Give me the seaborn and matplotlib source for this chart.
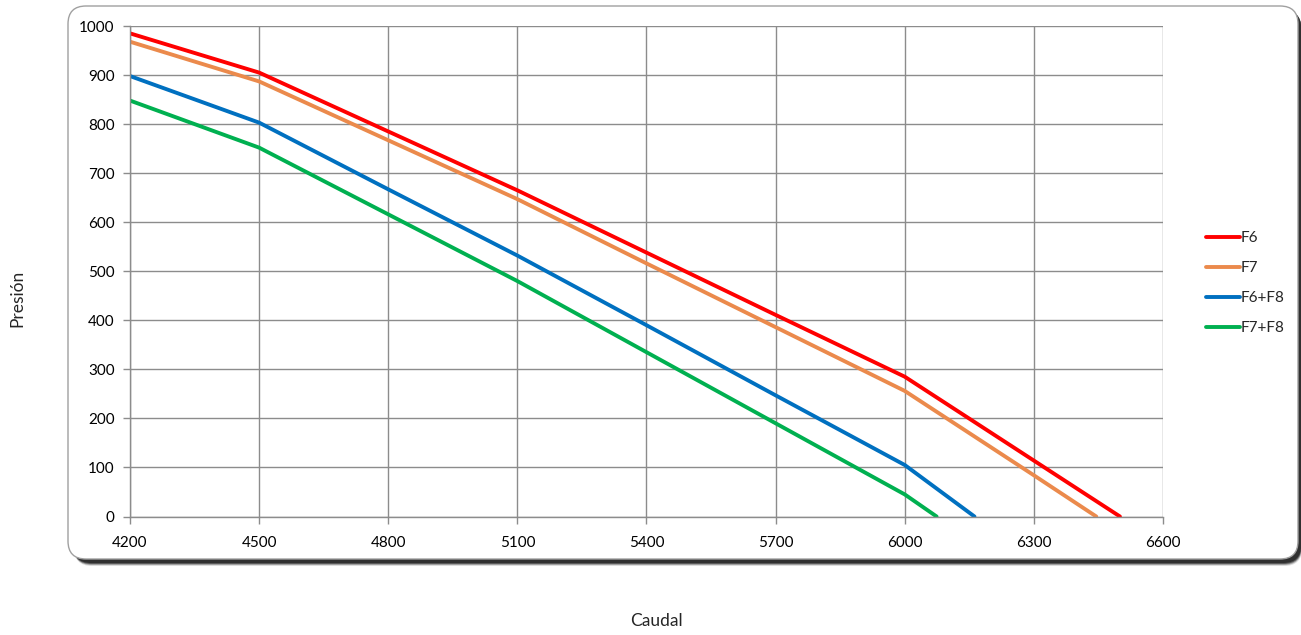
import matplotlib
matplotlib.use("Agg")
import matplotlib.pyplot as plt
from matplotlib.patches import FancyBboxPatch
import seaborn as sns
import pandas as pd

caudal_f6 = [4200, 4500, 4800, 5100, 5400, 5700, 6000, 6300, 6500]
presion_f6 = [985, 905, 785, 665, 538, 411, 285, 114, 0]
caudal_f7 = [4200, 4500, 4800, 5100, 5400, 5700, 6000, 6300, 6445]
presion_f7 = [968, 887, 767, 647, 516, 386, 256, 84, 0]
caudal_f6f8 = [4200, 4500, 4800, 5100, 5400, 5700, 6000, 6162]
presion_f6f8 = [898, 803, 667, 532, 390, 247, 105, 0]
caudal_f7f8 = [4200, 4500, 4800, 5100, 5400, 5700, 6000, 6074]
presion_f7f8 = [848, 752, 616, 480, 335, 190, 45, 0]

series_names = ["F6", "F7", "F6+F8", "F7+F8"]
colors = {"F6": "#FF0000", "F7": "#EB8A4C", "F6+F8": "#0070C0", "F7+F8": "#00B050"}
x_ticks = [4200, 4500, 4800, 5100, 5400, 5700, 6000, 6300, 6600]
y_ticks = list(range(0, 1001, 100))

frames = []
for name, xs, ys in zip(series_names,
                        [caudal_f6, caudal_f7, caudal_f6f8, caudal_f7f8],
                        [presion_f6, presion_f7, presion_f6f8, presion_f7f8]):
    frames.append(pd.DataFrame({"Caudal": xs, "Presión": ys, "Serie": name}))
df = pd.concat(frames, ignore_index=True)

sns.set_theme(style="white")
plt.rcParams['font.family'] = ['Lato', 'DejaVu Sans']

W, H = 1301, 635
fig = plt.figure(figsize=(W / 100, H / 100), dpi=100)

def fx(px):
    return px / W

def fy(py):
    return 1 - py / H

r = 18 / W
BL, BT, BR, BB = 68, 6, 1298, 559
# layered shadow for a soft look
for off, col in [(7, "#dcdcdc"), (6, "#a0a0a0"), (5, "#5a5a5a"), (4, "#303030")]:
    sh = FancyBboxPatch((fx(BL + 4 + off * 0.3), fy(BB + off)), fx(BR - BL - 2), fy(BT) - fy(BB),
                        boxstyle=f"round,pad=0,rounding_size={r}",
                        transform=fig.transFigure, facecolor=col,
                        edgecolor="none", zorder=0, mutation_aspect=W / H)
    fig.patches.append(sh)
box = FancyBboxPatch((fx(BL), fy(BB)), fx(BR - BL), fy(BT) - fy(BB),
                     boxstyle=f"round,pad=0,rounding_size={r}",
                     transform=fig.transFigure, facecolor="white",
                     edgecolor="#a0a0a0", linewidth=1.0, zorder=1,
                     mutation_aspect=W / H)
fig.patches.append(box)

ax = fig.add_axes([fx(130), fy(516.5), fx(1163 - 130), fy(26) - fy(516.5)])
ax.set_zorder(2)
ax.patch.set_alpha(0)

sns.lineplot(data=df, x="Caudal", y="Presión", hue="Serie", palette=colors,
             hue_order=series_names, linewidth=2.8, ax=ax, sort=False,
             estimator=None)

ax.set_xlim(4200, 6600)
ax.set_ylim(0, 1000)
ax.set_xticks(x_ticks)
ax.set_yticks(y_ticks)
ax.grid(True, color="#8c8c8c", linewidth=1.0)
for side in ["top", "right"]:
    ax.spines[side].set_visible(False)
for side in ["left", "bottom"]:
    ax.spines[side].set_color("#8c8c8c")
    ax.spines[side].set_linewidth(1.0)
ax.tick_params(axis="both", which="both", length=5, width=1.0, color="#8c8c8c",
               labelsize=11, labelcolor="black", direction="out",
               bottom=True, left=True)
ax.tick_params(axis="x", pad=9)
ax.tick_params(axis="y", pad=6)
ax.set_xlabel("")
ax.set_ylabel("")

fig.text(fx(656), fy(621), "Caudal", ha="center", va="center", fontsize=12.5)
fig.text(fx(17), fy(298), "Presión", ha="center", va="center", fontsize=12.5,
         rotation=90)

handles, labels = ax.get_legend_handles_labels()
ax.legend(handles, labels, loc="center left",
          bbox_to_anchor=((1206 - 130) / (1163 - 130), (516.5 - 283) / (516.5 - 26)),
          frameon=False, fontsize=11, handlelength=2.2, handletextpad=0.05,
          labelspacing=1.05, borderaxespad=0, borderpad=0)

fig.savefig("out.png", dpi=100)
